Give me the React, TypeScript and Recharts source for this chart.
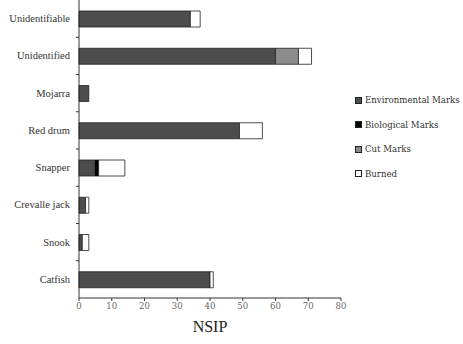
import { BarChart, Bar, XAxis, YAxis } from "recharts";

const taxa = ["Unidentifiable", "Unidentified", "Mojarra", "Red drum", "Snapper", "Crevalle jack", "Snook", "Catfish"];
const environmental = [34, 60, 3, 49, 5, 2, 1, 40];
const biological = [0, 0, 0, 0, 1, 0, 0, 0];
const cutMarks = [0, 7, 0, 0, 0, 0, 0, 0];
const burned = [3, 4, 0, 7, 8, 1, 2, 1];
const xTicks = [0, 10, 20, 30, 40, 50, 60, 70, 80];

const data = taxa.map((name, i) => ({
  name,
  env: environmental[i],
  bio: biological[i],
  cut: cutMarks[i],
  burned: burned[i],
}));

const legendItems = [
  { label: "Environmental Marks", color: "#4d4d4d" },
  { label: "Biological Marks", color: "#000" },
  { label: "Cut Marks", color: "#8c8c8c" },
  { label: "Burned", color: "#fff" },
];

const W = 463;
const H = 344;
const X_AXIS_H = 46;
const LABEL_GAP = 9;
const serif = "'DejaVu Serif', serif";
const times = "'Liberation Serif', serif";

// category label, plus the small tick that sits on the band boundary above it
function TaxonTick(props: any) {
  const { x, y, payload, index } = props;
  const band = (H - X_AXIS_H) / taxa.length;
  const axisX = x + LABEL_GAP;
  return (
    <g>
      <text x={x} y={y} dy={3.5} textAnchor="end" fill="#333" fontSize={10.5} fontFamily={times}>
        {payload.value}
      </text>
      {index > 0 && (
        <line x1={axisX - 3} x2={axisX} y1={y - band / 2} y2={y - band / 2} stroke="#333" />
      )}
    </g>
  );
}

export default function App() {
  return (
    <div style={{ position: "fixed", left: 0, top: 0, width: W, height: H, background: "#fff" }}>
      <BarChart
        width={W}
        height={H}
        data={data}
        layout="vertical"
        margin={{ top: 0, right: 122, bottom: 0, left: 0 }}
        barSize={16}
      >
        <XAxis
          type="number"
          domain={[0, 80]}
          ticks={xTicks}
          height={X_AXIS_H}
          stroke="#333"
          tickSize={3}
          tick={{ fill: "#666", fontSize: 8.5, fontFamily: serif }}
          label={{ value: "NSIP", position: "insideBottom", offset: 12, fill: "#222", fontSize: 16, fontFamily: times }}
        />
        <YAxis
          type="category"
          dataKey="name"
          width={79}
          stroke="#333"
          tickLine={false}
          tickSize={0}
          tickMargin={LABEL_GAP}
          tick={<TaxonTick />}
        />
        <Bar dataKey="env" stackId="a" fill="#4d4d4d" stroke="#222" strokeWidth={0.8} isAnimationActive={false} />
        <Bar dataKey="bio" stackId="a" fill="#000" stroke="#000" strokeWidth={0.8} isAnimationActive={false} />
        <Bar dataKey="cut" stackId="a" fill="#8c8c8c" stroke="#222" strokeWidth={0.8} isAnimationActive={false} />
        <Bar dataKey="burned" stackId="a" fill="#fff" stroke="#222" strokeWidth={0.8} isAnimationActive={false} />
      </BarChart>
      <div style={{ position: "absolute", left: 355, top: 88, fontFamily: serif, fontSize: 8.6, color: "#333" }}>
        {legendItems.map((it) => (
          <div key={it.label} style={{ display: "flex", alignItems: "center", height: 24.5, whiteSpace: "nowrap" }}>
            <span style={{ width: 5, height: 5, background: it.color, border: "1px solid #222", marginRight: 3 }} />
            {it.label}
          </div>
        ))}
      </div>
    </div>
  );
}
